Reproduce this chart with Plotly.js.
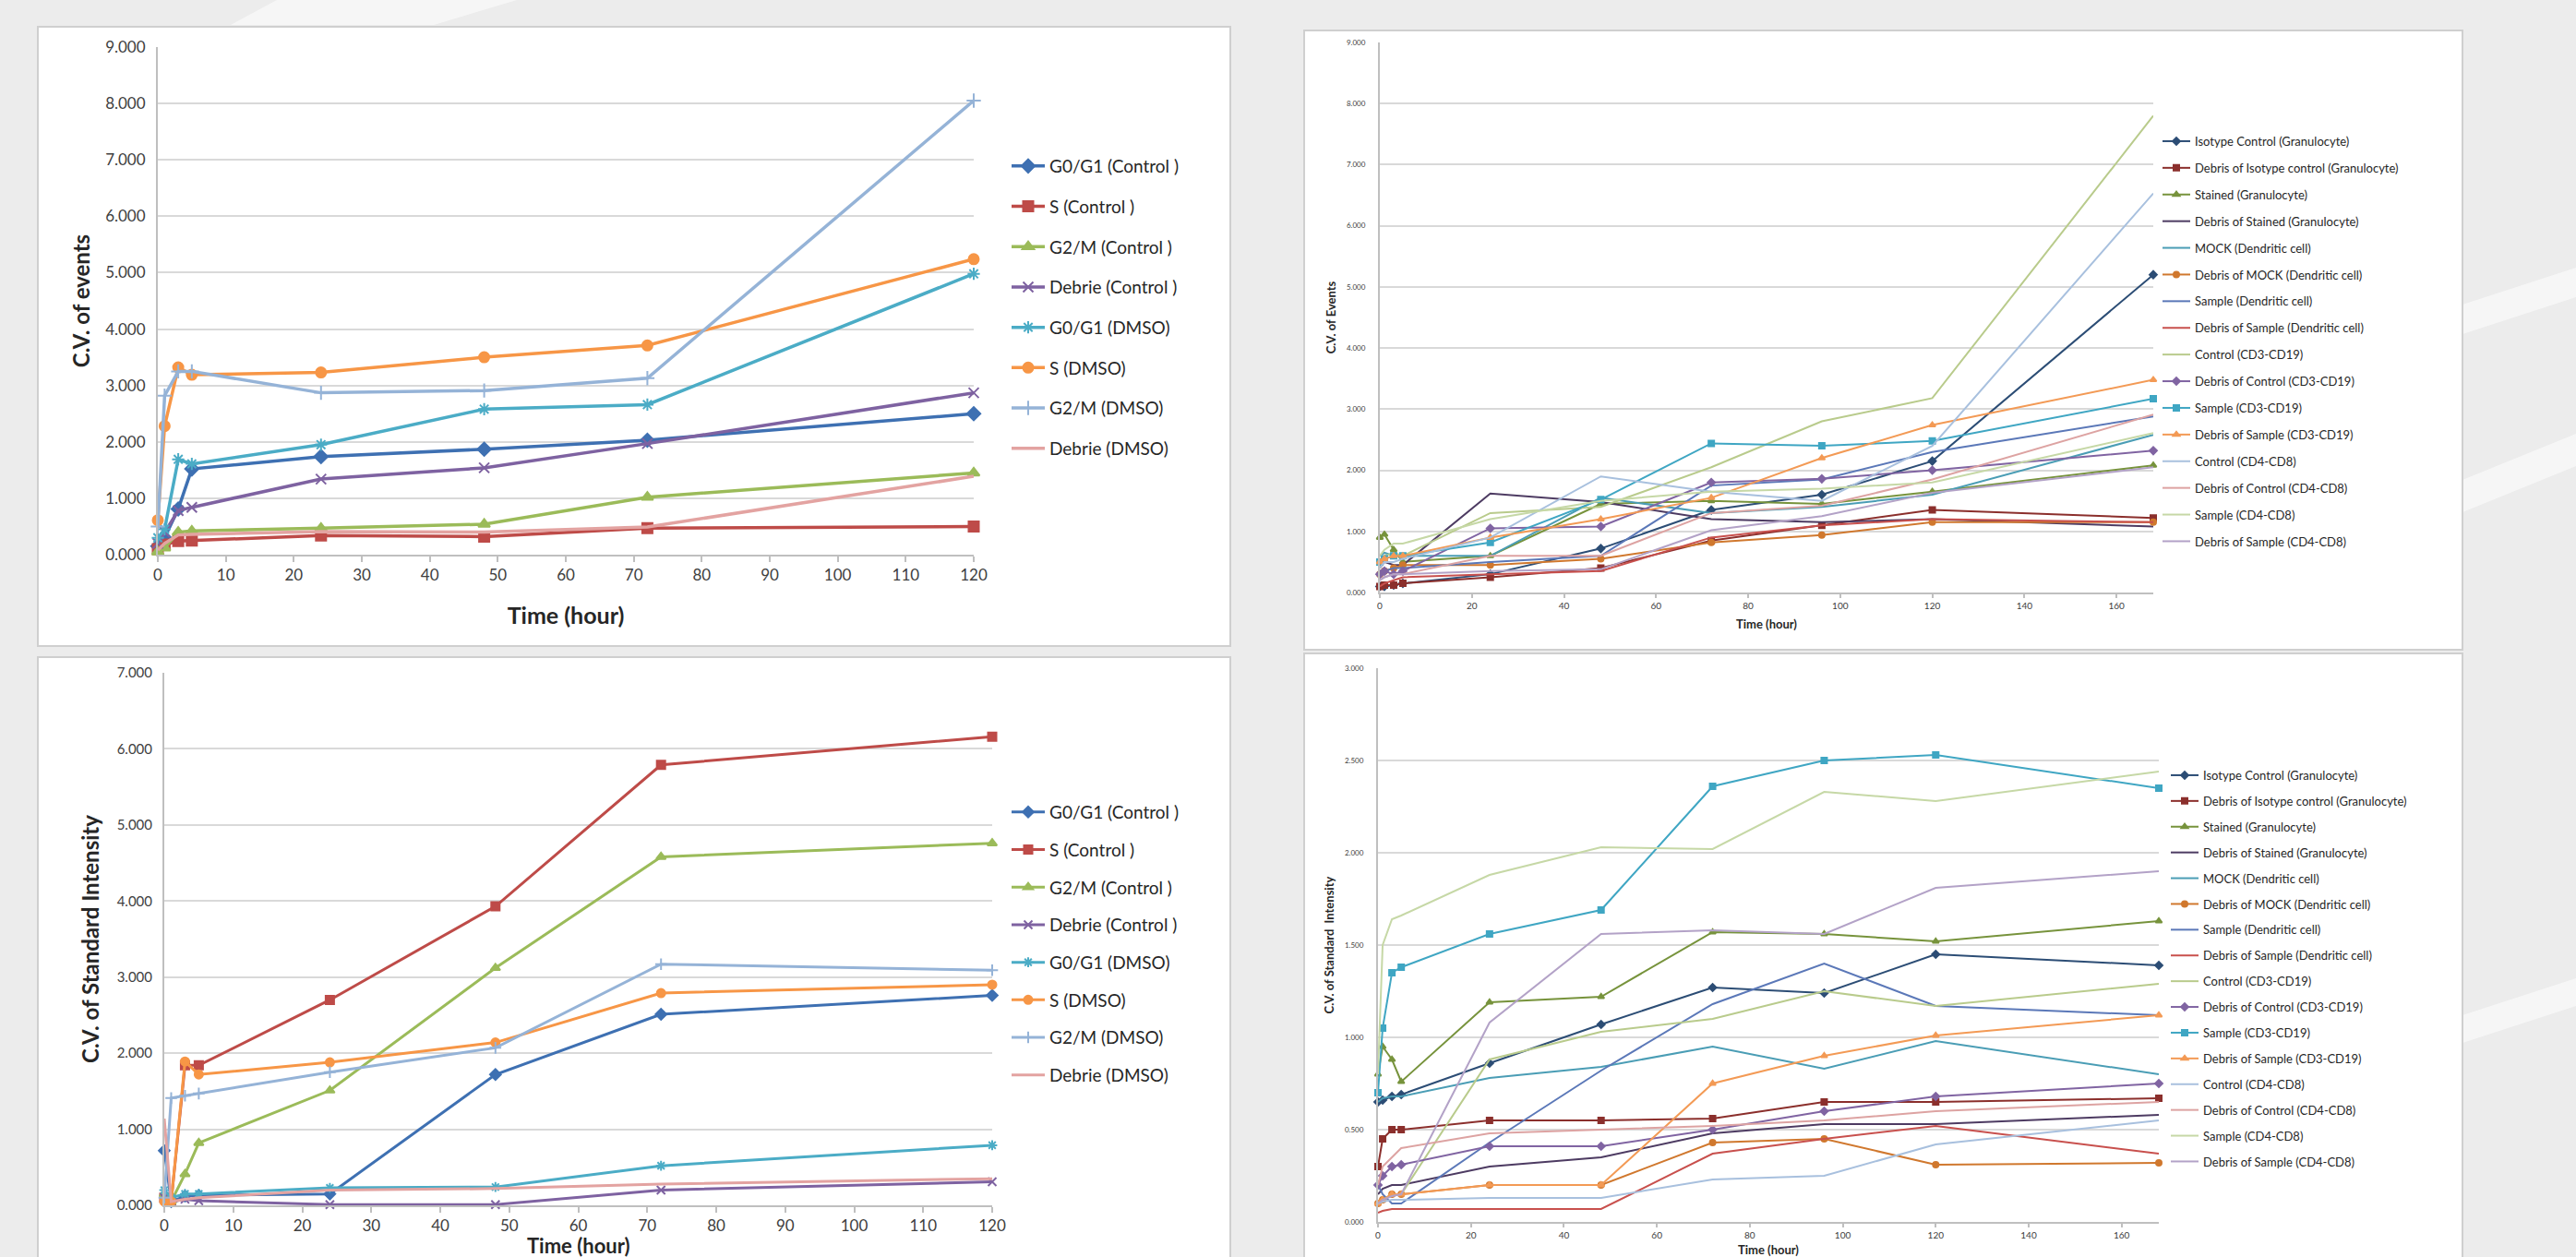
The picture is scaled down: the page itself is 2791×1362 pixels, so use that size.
<!DOCTYPE html>
<html>
<head>
<meta charset="utf-8">
<script src="https://cdn.plot.ly/plotly-3.0.1.min.js"></script>
<style>
html,body{margin:0;padding:0;background:#ececec;}
#chart{width:2791px;height:1362px;}
</style>
</head>
<body>
<div id="chart"></div>
<script>
// ---------------- DATA ----------------
// Left charts (cell cycle), time points in hours
const timeA = [0, 1, 3, 5, 24, 48, 72, 120];
const cycleNames = ['G0/G1 (Control )', 'S (Control )', 'G2/M (Control )', 'Debrie (Control )',
                    'G0/G1 (DMSO)', 'S (DMSO)', 'G2/M (DMSO)', 'Debrie (DMSO)'];
// C.V. of events
const evG0G1Ctrl = [0.15, 0.30, 0.81, 1.52, 1.74, 1.87, 2.03, 2.50];
const evSCtrl    = [0.10, 0.18, 0.24, 0.25, 0.34, 0.32, 0.47, 0.50];
const evG2MCtrl  = [0.05, 0.12, 0.40, 0.42, 0.47, 0.54, 1.02, 1.45];
const evDebCtrl  = [0.20, 0.40, 0.78, 0.84, 1.34, 1.54, 1.97, 2.87];
const evG0G1Dmso = [0.30, 0.45, 1.69, 1.61, 1.95, 2.58, 2.66, 4.98];
const evSDmso    = [0.61, 2.28, 3.32, 3.19, 3.23, 3.50, 3.71, 5.24];
const evG2MDmso  = [0.50, 2.82, 3.25, 3.25, 2.87, 2.91, 3.13, 8.05];
const evDebDmso  = [0.08, 0.20, 0.35, 0.36, 0.41, 0.40, 0.49, 1.39];
// C.V. of Standard Intensity
const siG0G1Ctrl = [0.72, 0.05, 0.12, 0.13, 0.15, 1.72, 2.51, 2.76];
const siSCtrl    = [0.10, 0.05, 1.84, 1.84, 2.70, 3.93, 5.79, 6.16];
const siG2MCtrl  = [0.15, 0.05, 0.41, 0.82, 1.51, 3.12, 4.58, 4.76];
const siDebCtrl  = [0.10, 0.05, 0.08, 0.06, 0.01, 0.01, 0.20, 0.31];
const siG0G1Dmso = [0.20, 0.10, 0.15, 0.15, 0.23, 0.24, 0.52, 0.79];
const siSDmso    = [0.05, 0.05, 1.89, 1.72, 1.88, 2.14, 2.79, 2.90];
const siG2MDmso  = [0.10, 1.41, 1.44, 1.47, 1.75, 2.07, 3.17, 3.09];
const siDebDmso  = [1.14, 0.05, 0.08, 0.10, 0.20, 0.22, 0.28, 0.35];

// Right charts (cell types), time points in hours
const timeB = [0, 1, 3, 5, 24, 48, 72, 96, 120, 168];
const cellNames = ['Isotype Control (Granulocyte)', 'Debris of Isotype control (Granulocyte)',
  'Stained (Granulocyte)', 'Debris of Stained (Granulocyte)', 'MOCK (Dendritic cell)',
  'Debris of MOCK (Dendritic cell)', 'Sample (Dendritic cell)', 'Debris of Sample (Dendritic cell)',
  'Control (CD3-CD19)', 'Debris of Control (CD3-CD19)', 'Sample (CD3-CD19)', 'Debris of Sample (CD3-CD19)',
  'Control (CD4-CD8)', 'Debris of Control (CD4-CD8)', 'Sample (CD4-CD8)', 'Debris of Sample (CD4-CD8)'];
// C.V. of Events
const eIsoGran     = [0.10, 0.10, 0.12, 0.15, 0.30, 0.72, 1.35, 1.60, 2.15, 5.20];
const eDebIsoGran  = [0.10, 0.12, 0.12, 0.15, 0.25, 0.40, 0.85, 1.10, 1.35, 1.22];
const eStGran      = [0.90, 0.95, 0.70, 0.50, 0.60, 1.45, 1.50, 1.45, 1.65, 2.08];
const eDebStGran   = [0.40, 0.50, 0.45, 0.45, 1.62, 1.48, 1.20, 1.15, 1.20, 1.08];
const eMockDC      = [0.60, 0.65, 0.60, 0.60, 0.60, 1.55, 1.30, 1.40, 1.60, 2.58];
const eDebMockDC   = [0.30, 0.35, 0.40, 0.45, 0.45, 0.55, 0.82, 0.94, 1.15, 1.15];
const eSampDC      = [0.30, 0.35, 0.40, 0.40, 0.50, 0.60, 1.75, 1.85, 2.30, 2.88];
const eDebSampDC   = [0.10, 0.15, 0.20, 0.25, 0.30, 0.35, 0.90, 1.10, 1.20, 1.15];
const eCtrlCD3     = [0.50, 0.60, 0.65, 0.60, 1.30, 1.40, 2.05, 2.80, 3.18, 7.80];
const eDebCtrlCD3  = [0.30, 0.35, 0.30, 0.35, 1.05, 1.08, 1.80, 1.86, 2.00, 2.32];
const eSampCD3     = [0.50, 0.55, 0.60, 0.60, 0.82, 1.52, 2.44, 2.40, 2.48, 3.17];
const eDebSampCD3  = [0.50, 0.55, 0.60, 0.60, 0.90, 1.20, 1.55, 2.20, 2.74, 3.48];
const eCtrlCD4     = [0.40, 0.50, 0.50, 0.55, 0.90, 1.90, 1.65, 1.50, 2.40, 6.53];
const eDebCtrlCD4  = [0.20, 0.25, 0.30, 0.30, 0.60, 0.60, 1.30, 1.42, 1.85, 2.91];
const eSampCD4     = [0.60, 0.70, 0.80, 0.80, 1.20, 1.50, 1.65, 1.70, 1.80, 2.61];
const eDebSampCD4  = [0.20, 0.25, 0.30, 0.30, 0.35, 0.38, 1.02, 1.25, 1.63, 2.05];
// C.V. of Standard Intensity
const sIsoGran     = [0.65, 0.66, 0.68, 0.69, 0.86, 1.07, 1.27, 1.24, 1.45, 1.39];
const sDebIsoGran  = [0.30, 0.45, 0.50, 0.50, 0.55, 0.55, 0.56, 0.65, 0.65, 0.67];
const sStGran      = [0.80, 0.95, 0.88, 0.76, 1.19, 1.22, 1.57, 1.56, 1.52, 1.63];
const sDebStGran   = [0.15, 0.18, 0.20, 0.20, 0.30, 0.35, 0.48, 0.53, 0.53, 0.58];
const sMockDC      = [0.65, 0.67, 0.68, 0.68, 0.78, 0.84, 0.95, 0.83, 0.98, 0.80];
const sDebMockDC   = [0.10, 0.12, 0.15, 0.15, 0.20, 0.20, 0.43, 0.45, 0.31, 0.32];
const sSampDC      = [0.20, 0.15, 0.10, 0.10, 0.43, 0.82, 1.18, 1.40, 1.17, 1.12];
const sDebSampDC   = [0.05, 0.06, 0.07, 0.07, 0.07, 0.07, 0.37, 0.45, 0.52, 0.37];
const sCtrlCD3     = [0.10, 0.12, 0.15, 0.15, 0.88, 1.03, 1.10, 1.25, 1.17, 1.29];
const sDebCtrlCD3  = [0.20, 0.25, 0.30, 0.31, 0.41, 0.41, 0.50, 0.60, 0.68, 0.75];
const sSampCD3     = [0.70, 1.05, 1.35, 1.38, 1.56, 1.69, 2.36, 2.50, 2.53, 2.35];
const sDebSampCD3  = [0.10, 0.12, 0.15, 0.15, 0.20, 0.20, 0.75, 0.90, 1.01, 1.12];
const sCtrlCD4     = [0.10, 0.11, 0.12, 0.12, 0.13, 0.13, 0.23, 0.25, 0.42, 0.55];
const sDebCtrlCD4  = [0.20, 0.30, 0.35, 0.40, 0.48, 0.50, 0.52, 0.55, 0.60, 0.65];
const sSampCD4     = [0.80, 1.50, 1.64, 1.66, 1.88, 2.03, 2.02, 2.33, 2.28, 2.44];
const sDebSampCD4  = [0.10, 0.12, 0.14, 0.15, 1.08, 1.56, 1.58, 1.56, 1.81, 1.90];

// ---------------- STYLE ----------------
const W = 2791, H = 1362;
const px = v => v / W;
const py = v => 1 - v / H;
const FONT = 'Lato, "Open Sans", "DejaVu Sans", sans-serif';

const cycleColors = ['#3E70B2', '#BE4B48', '#9BBB59', '#7E62A1', '#4BACC6', '#F79646', '#95B3D7', '#E3A3A1'];
const cycleSymbols = ['diamond', 'square', 'triangle-up', 'x-thin-open', 'asterisk-open', 'circle', 'cross-thin-open', null];

const cellColors = ['#2C4D75', '#8B2F2C', '#77933C', '#4D3B62', '#4A9DB5', '#D0782E', '#5B78B8', '#C8504D',
                    '#B9CB8C', '#8064A2', '#3FA6C3', '#F39A55', '#A8C0DE', '#DDA3A2', '#C6D8A6', '#B3A2C7'];
const cellSymbols = ['diamond', 'square', 'triangle-up', null, null, 'circle', null, null,
                     null, 'diamond', 'square', 'triangle-up', null, null, null, null];

const traces = [];
function addSeries(x, ys, names, colors, symbols, xa, ya, leg, lw, ms, prefix) {
  ys.forEach((y, i) => {
    const sym = symbols[i];
    const t = {
      type: 'scatter', x: x, y: y, name: names[i],
      mode: sym ? 'lines+markers' : 'lines',
      xaxis: xa, yaxis: ya, legend: leg, legendgroup: prefix + i,
      line: {color: colors[i], width: lw},
      cliponaxis: false, hoverinfo: 'x+y+name'
    };
    if (sym) t.marker = {symbol: sym, size: ms, color: colors[i], line: {color: colors[i], width: 2}};
    traces.push(t);
  });
}

addSeries(timeA, [evG0G1Ctrl, evSCtrl, evG2MCtrl, evDebCtrl, evG0G1Dmso, evSDmso, evG2MDmso, evDebDmso],
  cycleNames, cycleColors, cycleSymbols, 'x', 'y', 'legend', 3.5, 11, 'a');
addSeries(timeA, [siG0G1Ctrl, siSCtrl, siG2MCtrl, siDebCtrl, siG0G1Dmso, siSDmso, siG2MDmso, siDebDmso],
  cycleNames, cycleColors, cycleSymbols, 'x2', 'y2', 'legend2', 3, 9, 'b');
addSeries(timeB, [eIsoGran, eDebIsoGran, eStGran, eDebStGran, eMockDC, eDebMockDC, eSampDC, eDebSampDC,
                  eCtrlCD3, eDebCtrlCD3, eSampCD3, eDebSampCD3, eCtrlCD4, eDebCtrlCD4, eSampCD4, eDebSampCD4],
  cellNames, cellColors, cellSymbols, 'x3', 'y3', 'legend3', 2, 6, 'c');
addSeries(timeB, [sIsoGran, sDebIsoGran, sStGran, sDebStGran, sMockDC, sDebMockDC, sSampDC, sDebSampDC,
                  sCtrlCD3, sDebCtrlCD3, sSampCD3, sDebSampCD3, sCtrlCD4, sDebCtrlCD4, sSampCD4, sDebSampCD4],
  cellNames, cellColors, cellSymbols, 'x4', 'y4', 'legend4', 2, 6, 'd');

function xAxis(dom, anchor, range, dtick, tsize, title, titleSize, standoff) {
  return {
    domain: dom, anchor: anchor, range: range, dtick: dtick, tick0: 0,
    showgrid: false, zeroline: false, showline: true, linecolor: '#bfbfbf', linewidth: 2,
    ticks: 'outside', ticklen: tsize > 12 ? 6 : 4, tickwidth: 2, tickcolor: '#bfbfbf',
    tickfont: {size: tsize, color: '#404040', family: FONT},
    title: {text: title ? '<b>' + title + '</b>' : '', font: {size: titleSize, color: '#262626', family: FONT}, standoff: standoff},
    automargin: false, fixedrange: true
  };
}
function yAxis(dom, anchor, range, dtick, tsize, title, titleSize, standoff, tstand) {
  return {
    domain: dom, anchor: anchor, range: range, dtick: dtick, tick0: 0, tickformat: '.3f',
    showgrid: true, gridcolor: '#d9d9d9', gridwidth: 2, zeroline: false,
    showline: true, linecolor: '#bfbfbf', linewidth: 2, ticks: '',
    ticklabelstandoff: tstand,
    tickfont: {size: tsize, color: '#404040', family: FONT},
    title: {text: '<b>' + title + '</b>', font: {size: titleSize, color: '#262626', family: FONT}, standoff: standoff},
    automargin: false, fixedrange: true
  };
}

function legendCfg(x, yTop, size, gap, iw) {
  return {x: px(x), y: py(yTop), xanchor: 'left', yanchor: 'top', bgcolor: 'rgba(0,0,0,0)',
          borderwidth: 0, font: {size: size, color: '#262626', family: FONT},
          tracegroupgap: gap, itemwidth: iw, itemclick: false, itemdoubleclick: false};
}

function rect(x0, y0, x1, y1, fill, line) {
  return {type: 'rect', xref: 'paper', yref: 'paper', x0: px(x0), x1: px(x1), y0: py(y1), y1: py(y0),
          fillcolor: fill, line: {color: line || 'rgba(0,0,0,0)', width: line ? 2 : 0}, layer: 'below'};
}
function band(pts) {
  const d = 'M ' + pts.map(p => px(p[0]) + ',' + py(p[1])).join(' L ') + ' Z';
  return {type: 'path', xref: 'paper', yref: 'paper', path: d, fillcolor: 'rgba(255,255,255,0.55)',
          line: {width: 0}, layer: 'below'};
}

const layout = {
  width: W, height: H,
  margin: {l: 0, r: 0, t: 0, b: 0},
  paper_bgcolor: '#ececec', plot_bgcolor: 'rgba(0,0,0,0)',
  font: {family: FONT, color: '#404040'},
  showlegend: true,
  xaxis:  xAxis([px(171), px(1055)], 'y', [0, 120], 10, 17, 'Time (hour)', 25, 26),
  yaxis:  yAxis([py(601), py(51)], 'x', [0, 9], 1, 17, 'C.V. of events', 24, 10, 8),
  xaxis2: xAxis([px(178), px(1075)], 'y2', [0, 120], 10, 17, '', 25, 18),
  yaxis2: yAxis([py(1306), py(729)], 'x2', [0, 7], 1, 15, 'C.V. of Standard Intensity', 24, 12, 8),
  xaxis3: xAxis([px(1495), px(2333)], 'y3', [0, 168], 20, 10, 'Time (hour)', 13, 11),
  yaxis3: yAxis([py(642), py(46)], 'x3', [0, 9], 1, 8, 'C.V. of Events', 13, 8, 12),
  xaxis4: xAxis([px(1493), px(2339)], 'y4', [0, 168], 20, 10, 'Time (hour)', 13, 12),
  yaxis4: yAxis([py(1324), py(724)], 'x4', [0, 3], 0.5, 8, 'C.V. of Standard  Intensity', 13, 8, 12),
  legend:  legendCfg(1091, 161, 19, 16, 36),
  legend2: legendCfg(1091, 861, 19, 13, 36),
  legend3: legendCfg(2338, 138, 13, 9, 30),
  legend4: legendCfg(2347, 825, 13, 8, 30),
  annotations: [{
    text: '<b>Time (hour)</b>', xref: 'paper', yref: 'paper',
    x: px((178 + 1075) / 2), y: py(1349), xanchor: 'center', yanchor: 'middle',
    showarrow: false, font: {size: 22, color: '#262626', family: FONT}
  }],
  shapes: [
    band([[2668, 330], [2791, 290], [2791, 322], [2668, 362]]),
    band([[2668, 520], [2791, 470], [2791, 505], [2668, 555]]),
    band([[2668, 1100], [2791, 1060], [2791, 1090], [2668, 1130]]),
    band([[300, 0], [560, 0], [470, 27], [250, 27]]),
    rect(41, 29, 1333, 700, '#ffffff', '#cfcfcf'),
    rect(41, 712, 1333, 1375, '#ffffff', '#cfcfcf'),
    rect(1413, 33, 2668, 704, '#ffffff', '#cfcfcf'),
    rect(1413, 708, 2668, 1375, '#ffffff', '#cfcfcf')
  ]
};

Plotly.newPlot('chart', traces, layout, {displayModeBar: false, staticPlot: true});
</script>
</body>
</html>
